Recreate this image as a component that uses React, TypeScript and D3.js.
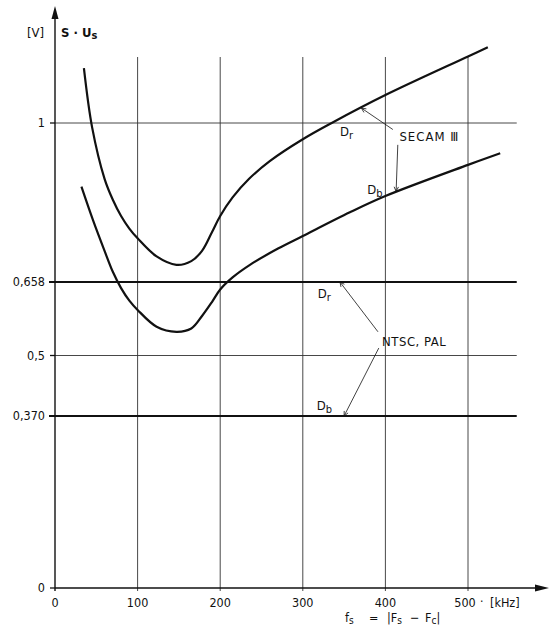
import React from "react";
import * as d3 from "d3";

// ---- data ----
const xTicks = [0, 100, 200, 300, 400, 500];
const yTicks = [0, 0.37, 0.5, 0.658, 1];
const yTickLabels = ["0", "0,370", "0,5", "0,658", "1"];
const gridY = [0.5, 1];
const ntscLevels = [0.658, 0.37];

const secamDrX = [35, 45, 60, 70, 80, 90, 100, 123, 147, 165, 178, 190, 200, 215, 235, 260, 300, 335, 400, 500, 524];
const secamDrY = [1.118, 0.99, 0.88, 0.835, 0.8, 0.773, 0.752, 0.713, 0.695, 0.703, 0.725, 0.765, 0.8, 0.84, 0.88, 0.918, 0.965, 1.0, 1.06, 1.143, 1.163];
const secamDbX = [32, 46, 60, 70, 80, 90, 100, 123, 147, 165, 178, 190, 200, 215, 236, 270, 300, 357, 400, 500, 539];
const secamDbY = [0.863, 0.791, 0.725, 0.68, 0.645, 0.618, 0.598, 0.562, 0.551, 0.558, 0.585, 0.615, 0.642, 0.668, 0.695, 0.73, 0.757, 0.808, 0.843, 0.91, 0.935];

const FONT = "'DejaVu Sans Condensed', 'Liberation Sans', sans-serif";

export default function App() {
  const W = 553, H = 632;
  const x = d3.scaleLinear().domain([0, 500]).range([55, 468]);
  const y = d3.scaleLinear().domain([0, 1]).range([588, 123]);
  const xEnd = 559;
  const ink = "#111";

  const line = d3.line<[number, number]>().x(d => x(d[0])).y(d => y(d[1])).curve(d3.curveCatmullRom.alpha(0.5));
  const dr = secamDrX.map((v, i) => [v, secamDrY[i]] as [number, number]);
  const db = secamDbX.map((v, i) => [v, secamDbY[i]] as [number, number]);

  const leader = (x1: number, y1: number, x2: number, y2: number, key: string) => {
    const X1 = x(x1), Y1 = y(y1), X2 = x(x2), Y2 = y(y2);
    const ang = Math.atan2(Y1 - Y2, X1 - X2);
    const L = 5, a = 0.45;
    const p1 = [X2 + L * Math.cos(ang + a), Y2 + L * Math.sin(ang + a)];
    const p2 = [X2 + L * Math.cos(ang - a), Y2 + L * Math.sin(ang - a)];
    return (
      <g key={key} stroke={ink} strokeWidth={0.8} fill="none">
        <line x1={X1} y1={Y1} x2={X2} y2={Y2} />
        <polyline points={`${p1[0]},${p1[1]} ${X2},${Y2} ${p2[0]},${p2[1]}`} />
      </g>
    );
  };

  const D = (vx: number, vy: number, sub: string, key: string) => (
    <text key={key} x={x(vx)} y={y(vy)} fontSize={13} fontFamily={FONT} fill={ink}>
      D<tspan fontSize={11} dy={3}>{sub}</tspan>
    </text>
  );

  return (
    <svg width={W} height={H} style={{ position: "absolute", left: 0, top: 0, background: "#fff" }}>
      <rect width={W} height={H} fill="#fff" />
      {xTicks.filter(t => t > 0).map(t => (
        <line key={"vg" + t} x1={x(t)} x2={x(t)} y1={57} y2={591} stroke="#333" strokeWidth={0.9} />
      ))}
      {gridY.map(t => (
        <line key={"hg" + t} x1={x(0)} x2={x(xEnd)} y1={y(t)} y2={y(t)} stroke="#333" strokeWidth={0.9} />
      ))}
      {ntscLevels.map(t => (
        <line key={"nl" + t} x1={x(0) - 6} x2={x(xEnd)} y1={y(t)} y2={y(t)} stroke={ink} strokeWidth={2} />
      ))}
      {yTicks.map(t => (
        <line key={"yt" + t} x1={x(0) - 5} x2={x(0)} y1={y(t)} y2={y(t)} stroke={ink} strokeWidth={1.3} />
      ))}
      {yTicks.map((t, i) => (
        <text key={"yl" + t} x={45} y={y(t)} dy="0.35em" textAnchor="end" fontSize={12.5} fontFamily={FONT} fill={ink}>
          {yTickLabels[i]}
        </text>
      ))}
      <line x1={x(0)} x2={x(0)} y1={591} y2={14} stroke={ink} strokeWidth={1.4} />
      <path d={`M${x(0)},6 L${x(0) - 3.5},19 L${x(0) + 3.5},19 Z`} fill={ink} />
      <line x1={x(0)} x2={540} y1={y(0)} y2={y(0)} stroke={ink} strokeWidth={1.4} />
      <path d={`M549,${y(0)} L535,${y(0) - 3.5} L535,${y(0) + 3.5} Z`} fill={ink} />
      {xTicks.map(t => (
        <text key={"xl" + t} x={x(t) - (t === 500 ? 3 : 0)} y={607} textAnchor="middle" fontSize={12.5} fontFamily={FONT} fill={ink}>
          {t}
        </text>
      ))}
      <text x={480} y={606} fontSize={12} fontFamily={FONT} fill={ink}>·</text>
      <text x={490} y={607} fontSize={12.5} fontFamily={FONT} fill={ink}>[kHz]</text>
      <g fontSize={12.5} fontFamily={FONT} fill={ink}>
        <text x={345} y={622}>f<tspan fontSize={10} dy={2}>s</tspan></text>
        <text x={369} y={622}>=</text>
        <text x={387} y={622}>|F<tspan fontSize={10} dy={2}>s</tspan></text>
        <text x={410} y={622}>−</text>
        <text x={425} y={622}>F<tspan fontSize={10} dy={2}>c</tspan><tspan dy={-2}>|</tspan></text>
      </g>
      <text x={27} y={37} fontSize={13} fontFamily={FONT} fill={ink}>[V]</text>
      <text x={61} y={37} fontSize={13} fontWeight="bold" fontFamily={FONT} fill={ink}>
        S · U<tspan fontSize={11} dy={2}>s</tspan>
      </text>
      <path d={line(dr) || ""} fill="none" stroke={ink} strokeWidth={2.2} />
      <path d={line(db) || ""} fill="none" stroke={ink} strokeWidth={2.2} />
      {leader(409, 0.986, 371, 1.032, "l1")}
      {leader(415, 0.953, 413, 0.853, "l2")}
      {D(345, 0.972, "r", "d1")}
      {D(378, 0.847, "b", "d2")}
      <text x={x(417)} y={y(0.961)} fontSize={13} fontFamily={FONT} letterSpacing={1} fill={ink}>SECAM Ⅲ</text>
      {leader(391, 0.551, 345, 0.658, "l3")}
      {leader(392, 0.516, 350, 0.37, "l4")}
      {D(318, 0.624, "r", "d3")}
      {D(317, 0.382, "b", "d4")}
      <text x={x(396)} y={y(0.52)} fontSize={13} fontFamily={FONT} letterSpacing={0.5} fill={ink}>NTSC, PAL</text>
    </svg>
  );
}
